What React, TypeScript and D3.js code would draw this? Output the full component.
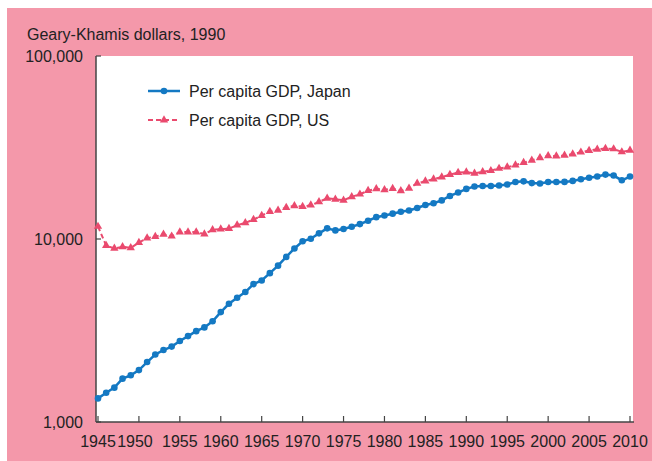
import React from "react";
import * as d3 from "d3";

const years: number[] = d3.range(1945, 2011);
const japan: number[] = [
  1346, 1444, 1541, 1725, 1800, 1921, 2126, 2336, 2474, 2582,
  2771, 2948, 3136, 3289, 3554, 3986, 4426, 4777, 5129, 5668,
  5934, 6506, 7152, 7983, 8874, 9714, 10040, 10734, 11434, 11145,
  11344, 11669, 12064, 12585, 13163, 13428, 13754, 14078, 14307, 14773,
  15331, 15679, 16251, 17185, 17943, 18789, 19355, 19482, 19478, 19603,
  19857, 20494, 20655, 20210, 20118, 20480, 20487, 20518, 20770, 21219,
  21605, 21975, 22489, 22213, 20936, 21935,
];
const us: number[] = [
  11709, 9197, 8886, 9065, 8944, 9561, 10116, 10316, 10613, 10359,
  10897, 10914, 10920, 10631, 11230, 11328, 11402, 11905, 12242, 12773,
  13419, 14134, 14330, 14863, 15179, 15030, 15304, 15944, 16689, 16491,
  16284, 17014, 17567, 18373, 18789, 18577, 18856, 18325, 18920, 20123,
  20717, 21236, 21788, 22499, 23059, 23201, 22849, 23298, 23616, 24291,
  24701, 25323, 26154, 26893, 27737, 28467, 28400, 28634, 29120, 29811,
  30435, 30914, 31213, 31044, 29896, 30491,
];
const xTicks: number[] = d3.range(1945, 2011, 5);
const yTicks: number[] = [1000, 10000, 100000];
const yLabel = "Geary-Khamis dollars, 1990";
const seriesNames = ["Per capita GDP, Japan", "Per capita GDP, US"];

const BLUE = "#1479c3";
const RED = "#ea4a6e";
const PINK = "#f498aa";
const AXIS = "#444";
const FONT = "'Liberation Sans', Arial, Helvetica, sans-serif";
const FS = 16;

export default function App() {
  const W = 652, H = 461;
  const plot = { left: 96, right: 633, top: 56, bottom: 422 };
  const x = d3.scaleLinear().domain([1945, 2010]).range([98, 630]);
  const y = d3.scaleLog().domain([1000, 100000]).range([plot.bottom, plot.top]);
  const line = d3
    .line<number>()
    .x((_, i) => x(years[i]))
    .y((d) => y(d));
  const tri = d3.symbol().type(d3.symbolTriangle).size(30)();
  const fmt = d3.format(",");

  return (
    <svg
      width={W}
      height={H}
      style={{ position: "absolute", left: 0, top: 0, fontFamily: FONT }}
    >
      <rect x={0} y={0} width={W} height={H} fill="#fff" />
      <rect x={7} y={8} width={W - 7} height={H - 8} fill={PINK} />
      <rect
        x={plot.left}
        y={plot.top}
        width={plot.right - plot.left}
        height={plot.bottom - plot.top}
        fill="#fff"
      />
      <text x={27} y={39.5} fontSize={FS} fill="#222">
        {yLabel}
      </text>

      {/* axes */}
      <line x1={plot.left} x2={plot.left} y1={plot.top} y2={plot.bottom} stroke={AXIS} strokeWidth={1.5} />
      <line x1={plot.left} x2={plot.right + 1} y1={plot.bottom} y2={plot.bottom} stroke={AXIS} strokeWidth={1.5} />
      {yTicks.map((t) => (
        <g key={t}>
          <line x1={plot.left} x2={plot.left + 5} y1={y(t)} y2={y(t)} stroke={AXIS} strokeWidth={1.2} />
          <text x={83} y={y(t)} dy="0.35em" textAnchor="end" fontSize={FS} fill="#222">
            {fmt(t)}
          </text>
        </g>
      ))}
      {xTicks.map((t) => (
        <g key={t}>
          <line x1={x(t)} x2={x(t)} y1={plot.bottom} y2={plot.bottom - 6} stroke={AXIS} strokeWidth={1.2} />
          <text
            x={x(t) + (t === 1950 ? -4 : 0)}
            y={447}
            textAnchor="middle"
            fontSize={FS}
            fill="#222"
          >
            {t}
          </text>
        </g>
      ))}

      {/* US series */}
      <path d={line(us) || ""} fill="none" stroke={RED} strokeWidth={2} strokeDasharray="5,3" />
      {us.map((v, i) => (
        <path key={i} d={tri || ""} transform={`translate(${x(years[i])},${y(v)})`} fill={RED} />
      ))}

      {/* Japan series */}
      <path d={line(japan) || ""} fill="none" stroke={BLUE} strokeWidth={2.5} />
      {japan.map((v, i) => (
        <circle key={i} cx={x(years[i])} cy={y(v)} r={3.3} fill={BLUE} />
      ))}

      {/* legend */}
      <g>
        <line x1={148} x2={180} y1={91} y2={91} stroke={BLUE} strokeWidth={2.5} />
        <circle cx={164} cy={91} r={3.3} fill={BLUE} />
        <text x={189} y={91} dy="0.35em" fontSize={FS} fill="#222">
          {seriesNames[0]}
        </text>
        <line x1={148} x2={180} y1={120} y2={120} stroke={RED} strokeWidth={2} strokeDasharray="5,3" />
        <path d={tri || ""} transform="translate(164,120)" fill={RED} />
        <text x={189} y={120} dy="0.35em" fontSize={FS} fill="#222">
          {seriesNames[1]}
        </text>
      </g>
    </svg>
  );
}
